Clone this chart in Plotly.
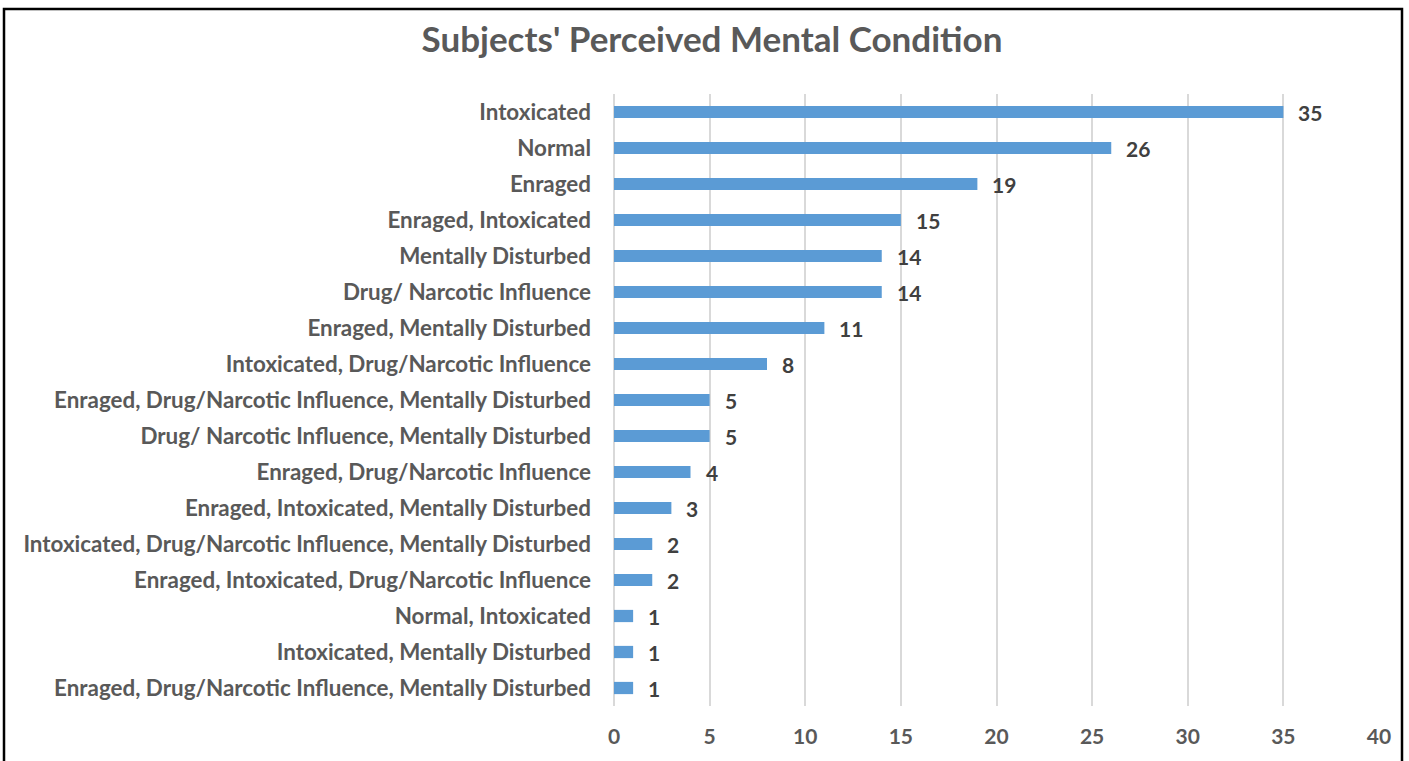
import plotly.graph_objects as go

categories = [
    "Intoxicated",
    "Normal",
    "Enraged",
    "Enraged, Intoxicated",
    "Mentally Disturbed",
    "Drug/ Narcotic Influence",
    "Enraged, Mentally Disturbed",
    "Intoxicated, Drug/Narcotic Influence",
    "Enraged, Drug/Narcotic Influence, Mentally Disturbed",
    "Drug/ Narcotic Influence, Mentally Disturbed",
    "Enraged, Drug/Narcotic Influence",
    "Enraged, Intoxicated, Mentally Disturbed",
    "Intoxicated, Drug/Narcotic Influence, Mentally Disturbed",
    "Enraged, Intoxicated, Drug/Narcotic Influence",
    "Normal, Intoxicated",
    "Intoxicated, Mentally Disturbed",
    "Enraged, Drug/Narcotic Influence, Mentally Disturbed",
]
counts = [35, 26, 19, 15, 14, 14, 11, 8, 5, 5, 4, 3, 2, 2, 1, 1, 1]
x_ticks = [0, 5, 10, 15, 20, 25, 30, 35, 40]

positions = list(range(len(categories)))

W, H = 1409, 761
ML, MT = 614, 94
MR = W - 1379
MB = H - 706
pw = W - ML - MR
ph = H - MT - MB

FONT = "Lato"
GRAY = "#595959"

fig = go.Figure(go.Bar(
    x=counts,
    y=positions,
    orientation="h",
    marker=dict(color="#5B9BD5", line=dict(width=0)),
    width=0.34,
    hoverinfo="x+text",
    hovertext=categories,
))

for pos, val in zip(positions, counts):
    fig.add_annotation(
        x=val, y=pos, xref="x", yref="y",
        text=str(val), showarrow=False,
        xanchor="left", yanchor="middle",
        xshift=13, yshift=0,
        font=dict(family=FONT, size=21, color="#404040", weight="bold"),
    )

fig.update_layout(
    width=W, height=H,
    margin=dict(l=ML, r=MR, t=MT, b=MB, autoexpand=False),
    paper_bgcolor="white",
    plot_bgcolor="white",
    showlegend=False,
    title=dict(
        text="Subjects' Perceived Mental Condition",
        x=712 / W, xanchor="center",
        y=1 - 40 / H, yanchor="middle",
        font=dict(family=FONT, size=35, color=GRAY, weight="bold"),
    ),
    xaxis=dict(
        range=[0, 40],
        tickvals=x_ticks,
        ticktext=[str(t) for t in x_ticks],
        showgrid=True,
        gridcolor="#D9D9D9",
        gridwidth=1.5,
        zeroline=True,
        zerolinecolor="#D9D9D9",
        zerolinewidth=1.5,
        showline=False,
        ticks="",
        tickfont=dict(family=FONT, size=21, color=GRAY, weight="bold"),
        ticklabelstandoff=16,
    ),
    yaxis=dict(
        tickvals=positions,
        ticktext=categories,
        range=[len(categories) - 0.5, -0.5],
        showgrid=False,
        zeroline=False,
        showline=False,
        ticks="",
        tickfont=dict(family=FONT, size=22.4, color=GRAY, weight="bold"),
        ticklabelstandoff=22,
    ),
    shapes=[dict(
        type="rect", xref="paper", yref="paper",
        x0=(4 - ML) / pw, x1=(1402 - ML) / pw,
        y0=(706 - 775) / ph, y1=1 + (94 - 9) / ph,
        line=dict(color="black", width=2.5),
        fillcolor="rgba(0,0,0,0)",
        layer="above",
    )],
)

fig.write_html(
    "out.html",
    config={"displayModeBar": False},
    post_script="document.body.style.margin='0';document.body.style.overflow='hidden';",
)
